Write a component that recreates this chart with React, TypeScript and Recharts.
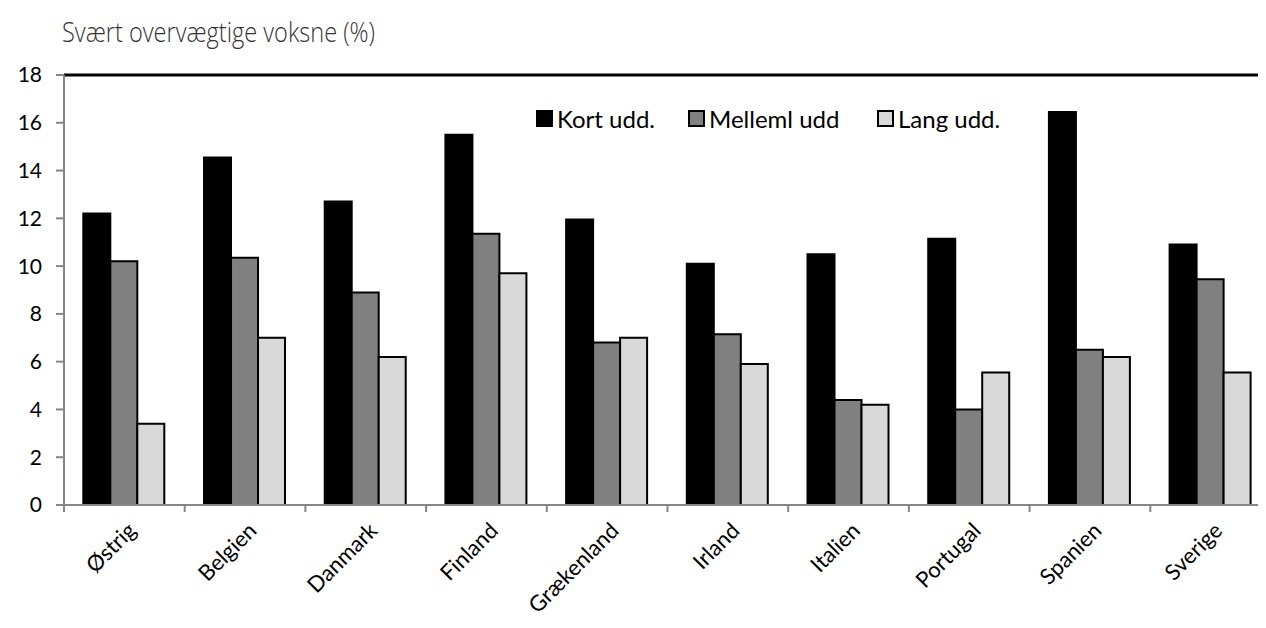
import { Bar, BarChart, ReferenceLine, XAxis, YAxis } from "recharts";

const countries = ["Østrig", "Belgien", "Danmark", "Finland", "Grækenland", "Irland", "Italien", "Portugal", "Spanien", "Sverige"];
const kortUdd = [12.2, 14.55, 12.7, 15.5, 11.95, 10.1, 10.5, 11.15, 16.45, 10.9];
const mellemUdd = [10.2, 10.35, 8.9, 11.35, 6.8, 7.15, 4.4, 4.0, 6.5, 9.45];
const langUdd = [3.4, 7.0, 6.2, 9.7, 7.0, 5.9, 4.2, 5.55, 6.2, 5.55];
const yTicks = [0, 2, 4, 6, 8, 10, 12, 14, 16, 18];

const series = [
  { key: "kort", name: "Kort udd.", fill: "#000000", x: 536 },
  { key: "mellem", name: "Melleml udd", fill: "#808080", x: 688 },
  { key: "lang", name: "Lang udd.", fill: "#d9d9d9", x: 877 },
];

const FONT = "Lato, 'Open Sans', sans-serif";
const AXIS = "#868686";

const CHART_W = 1280;
const CHART_H = 628;
const X_H = 123;
const MARGIN = { top: 75, right: 9, bottom: 0, left: 0 };
const Y_W = 64;
const BAND = (CHART_W - MARGIN.left - MARGIN.right - Y_W) / countries.length;

function CountryTick(props: any) {
  const { x, y, payload } = props;
  const left = x - BAND / 2;
  const ax = x + 7;
  const ay = y + 13;
  return (
    <g>
      <line x1={left} y1={y - 8} x2={left} y2={y - 1} stroke={AXIS} strokeWidth={2} />
      <text
        x={ax}
        y={ay}
        transform={`rotate(-45 ${ax} ${ay})`}
        textAnchor="end"
        dominantBaseline="central"
        fontSize={22}
        fontFamily={FONT}
        fill="#000"
      >
        {payload.value}
      </text>
    </g>
  );
}

function LegendBox() {
  return (
    <>
      {series.map((s) => (
        <div
          key={s.key}
          style={{
            position: "absolute",
            left: s.x,
            top: 104,
            display: "flex",
            alignItems: "center",
            fontFamily: FONT,
            fontSize: 24,
            color: "#000",
            whiteSpace: "nowrap",
          }}
        >
          <span
            style={{
              display: "inline-block",
              width: 13,
              height: 13,
              background: s.fill,
              border: "2px solid #000",
              marginRight: 4,
            }}
          />
          {s.name}
        </div>
      ))}
    </>
  );
}

export default function App() {
  const data = countries.map((c, i) => ({
    country: c,
    kort: kortUdd[i],
    mellem: mellemUdd[i],
    lang: langUdd[i],
  }));

  return (
    <div style={{ margin: -8, width: 1266, height: 628, overflow: "hidden", position: "relative", background: "#fff" }}>
      <BarChart
        width={CHART_W}
        height={CHART_H}
        data={data}
        margin={MARGIN}
        barCategoryGap="16%"
        barGap={0}
      >
        <text
          x={62}
          y={42}
          fontFamily="'Open Sans', sans-serif"
          fontWeight={300}
          fontSize={28}
          fill="#333"
          textLength={313}
          lengthAdjust="spacingAndGlyphs"
        >
          Svært overvægtige voksne (%)
        </text>
        <ReferenceLine y={18} stroke="#000" strokeWidth={3} />
        <XAxis
          dataKey="country"
          interval={0}
          axisLine={{ stroke: AXIS, strokeWidth: 2 }}
          tickLine={false}
          tick={<CountryTick />}
          height={X_H}
        />
        <YAxis
          width={Y_W}
          domain={[0, 18]}
          ticks={yTicks}
          interval={0}
          axisLine={{ stroke: AXIS, strokeWidth: 2 }}
          tickLine={{ stroke: AXIS, strokeWidth: 2 }}
          tickSize={8}
          tickMargin={14}
          tick={{ fill: "#000", fontSize: 21, fontFamily: FONT }}
        />
        {series.map((s) => (
          <Bar
            key={s.key}
            dataKey={s.key}
            name={s.name}
            fill={s.fill}
            stroke="#000"
            strokeWidth={2}
            isAnimationActive={false}
          />
        ))}
      </BarChart>
      <LegendBox />
    </div>
  );
}
